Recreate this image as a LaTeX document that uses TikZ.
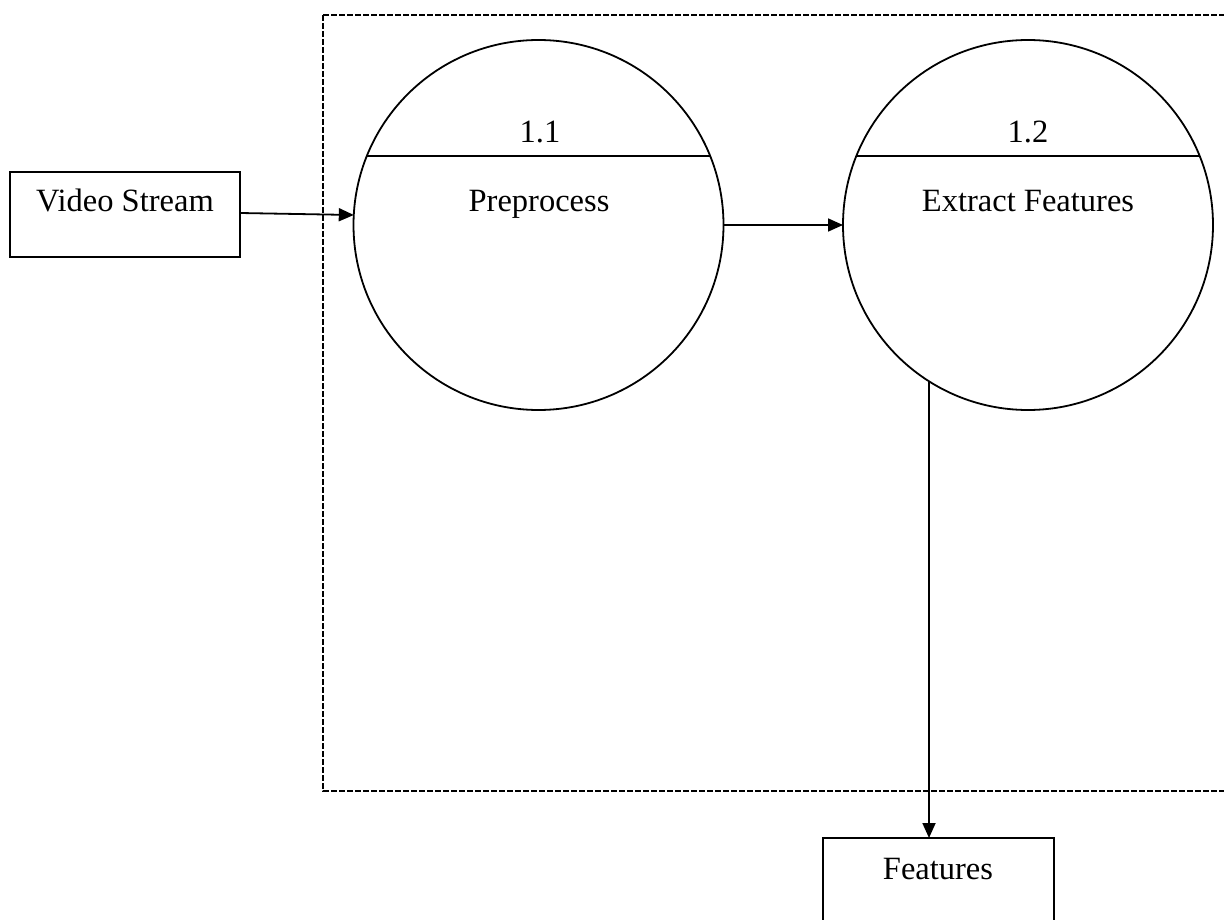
\documentclass[tikz,border=0pt]{standalone}
\usepackage{fontspec}
\setmainfont{Liberation Serif}
\usetikzlibrary{arrows.meta,calc}
\begin{document}
\begin{tikzpicture}[x=1pt,y=-1pt,
  every node/.style={font=\fontsize{32.5}{38}\selectfont, inner sep=0pt, outer sep=0pt},
  proc/.style={draw, circle, line width=1.8pt, minimum size=370pt},
  ent/.style={draw, line width=1.8pt},
  txt/.style={anchor=base},
  flow/.style={line width=1.8pt, -{Triangle[length=15pt,width=13pt]}},
  bound/.style={line width=1.6pt, dash pattern=on 6pt off 2pt}]
\useasboundingbox (0,0) rectangle (1224,920);
\clip (0,0) rectangle (1224,920);
% system boundary
\draw[bound] (323,15) -- (1240,15) (323,15) -- (323,791) -- (1240,791);
% external entities
\draw[ent] (10,172) rectangle (240,257);
\node[txt] (vs) at (125,212) {Video Stream};
\coordinate (vsE) at (240,213);
\draw[ent] (823,838) rectangle (1054,940);
\node[txt] (ftT) at (938,879) {Features};
\coordinate (ftN) at (938.5,838);
% processes
\node[proc] (p1) at (538.5,225) {};
\node[proc] (p2) at (1028,225) {};
\draw[line width=1.8pt] ($(p1)+(-171.6,-69)$) -- ($(p1)+(171.6,-69)$);
\draw[line width=1.8pt] ($(p2)+(-171.6,-69)$) -- ($(p2)+(171.6,-69)$);
\node[txt] (n1) at (540,143) {1.1};
\node[txt] (l1) at (539,212) {Preprocess};
\node[txt] (n2) at (1028,143) {1.2};
\node[txt] (l2) at (1028,212) {Extract Features};
% flows
\coordinate (p1in) at ($(p1)+(-184.7,-10)$);
\coordinate (p2out) at ($(p2)+(-99,156)$);
\draw[flow] (vsE) -- (p1in);
\draw[flow] (p1.east) -- (p2.west);
\draw[flow] (p2out) -- (p2out |- ftN);
\end{tikzpicture}
\end{document}
